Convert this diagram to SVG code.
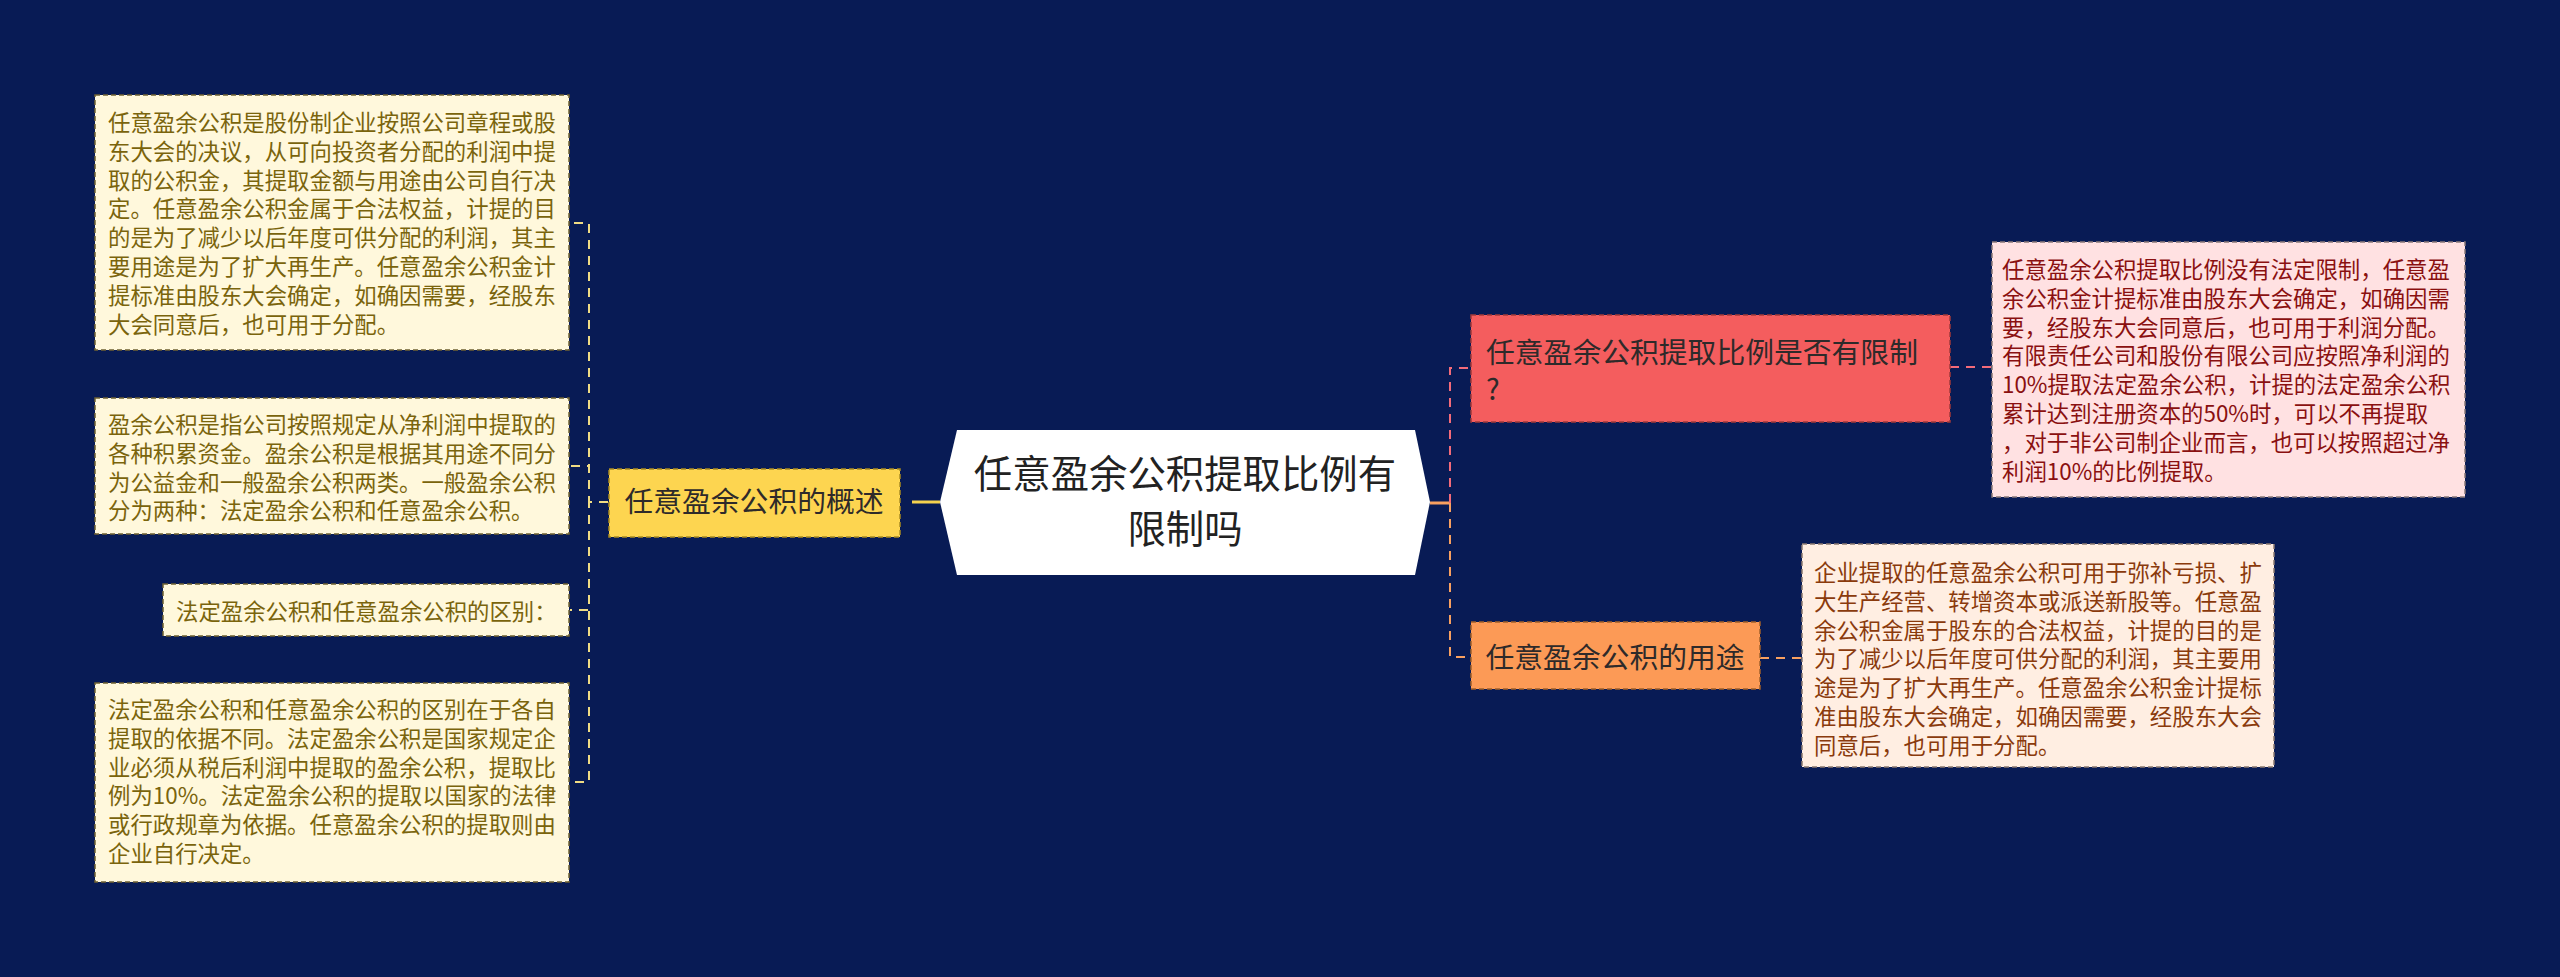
<svg xmlns="http://www.w3.org/2000/svg" width="2560" height="977" viewBox="0 0 2560 977">
<style>
text{font-family:"Noto Sans CJK SC","Noto Sans",sans-serif}
.d{font-size:22.4px}
.ly{fill:#7a640c}
.lr{fill:#8a1010}
.lo{fill:#8a3a0c}
.n{font-size:28.8px;fill:#2e2a2a}
.c{font-size:38.4px;fill:#222}
.boxy{fill:#fff8dc;stroke:#6f6232;stroke-width:1.5;stroke-dasharray:5 3}
.boxr{fill:#ffe1e2;stroke:#8a7a7a;stroke-width:1.5;stroke-dasharray:5 3}
.boxo{fill:#ffeee2;stroke:#8a7a70;stroke-width:1.5;stroke-dasharray:5 3}
.cy{fill:none;stroke:#f0dc84;stroke-width:2;stroke-dasharray:9 7}
.cr{fill:none;stroke:#f36b7a;stroke-width:2;stroke-dasharray:9 7}
.co{fill:none;stroke:#f8a060;stroke-width:2;stroke-dasharray:9 7}
</style>
<rect width="2560" height="977" fill="#081b55"/>
<g id="connectors">
<path class="cy" d="M608 502H589V223H570"/>
<path class="cy" d="M608 502H589V466H570"/>
<path class="cy" d="M608 502H589V610H570"/>
<path class="cy" d="M608 502H589V782H570"/>
<path d="M912 502H940" stroke="#f5d24e" stroke-width="3"/>
<path d="M1430 503H1450" stroke="#f8a060" stroke-width="3"/>
<path class="cr" d="M1450 503V368H1470"/>
<path class="co" d="M1450 503V657H1470"/>
<path class="cr" d="M1950 367H1992"/>
<path class="co" d="M1760 658H1802"/>
</g>
<g id="center">
<polygon points="940,502 957,430 1415,430 1430,502 1415,575 957,575" fill="#ffffff"/>
<text class="c" x="1185" y="488" text-anchor="middle">任意盈余公积提取比例有</text>
<text class="c" x="1185" y="543" text-anchor="middle">限制吗</text>
</g>
<g id="overview">
<rect x="609" y="469" width="291" height="68" fill="#fdd550" stroke="#a88a20" stroke-width="1.5" stroke-dasharray="5 3"/>
<text class="n" x="754" y="512" text-anchor="middle">任意盈余公积的概述</text>
</g>
<g id="desc1">
<rect class="boxy" x="95" y="95" width="474" height="255"/>
<text class="d ly" x="108" y="131">任意盈余公积是股份制企业按照公司章程或股</text>
<text class="d ly" x="108" y="159.8">东大会的决议，从可向投资者分配的利润中提</text>
<text class="d ly" x="108" y="188.6">取的公积金，其提取金额与用途由公司自行决</text>
<text class="d ly" x="108" y="217.4">定。任意盈余公积金属于合法权益，计提的目</text>
<text class="d ly" x="108" y="246.2">的是为了减少以后年度可供分配的利润，其主</text>
<text class="d ly" x="108" y="275">要用途是为了扩大再生产。任意盈余公积金计</text>
<text class="d ly" x="108" y="303.8">提标准由股东大会确定，如确因需要，经股东</text>
<text class="d ly" x="108" y="332.6">大会同意后，也可用于分配。</text>
</g>
<g id="desc2">
<rect class="boxy" x="95" y="398" width="474" height="136"/>
<text class="d ly" x="108" y="433">盈余公积是指公司按照规定从净利润中提取的</text>
<text class="d ly" x="108" y="461.8">各种积累资金。盈余公积是根据其用途不同分</text>
<text class="d ly" x="108" y="490.6">为公益金和一般盈余公积两类。一般盈余公积</text>
<text class="d ly" x="108" y="519.4">分为两种：法定盈余公积和任意盈余公积。</text>
</g>
<g id="desc3">
<rect class="boxy" x="163" y="584" width="406" height="52"/>
<text class="d ly" x="176" y="620">法定盈余公积和任意盈余公积的区别：</text>
</g>
<g id="desc4">
<rect class="boxy" x="95" y="683" width="474" height="199"/>
<text class="d ly" x="108" y="718">法定盈余公积和任意盈余公积的区别在于各自</text>
<text class="d ly" x="108" y="746.8">提取的依据不同。法定盈余公积是国家规定企</text>
<text class="d ly" x="108" y="775.6">业必须从税后利润中提取的盈余公积，提取比</text>
<text class="d ly" x="108" y="804.4">例为10%。法定盈余公积的提取以国家的法律</text>
<text class="d ly" x="108" y="833.2">或行政规章为依据。任意盈余公积的提取则由</text>
<text class="d ly" x="108" y="862">企业自行决定。</text>
</g>
<g id="limit">
<rect x="1471" y="315" width="479" height="107" fill="#f45d5e" stroke="#a03a3a" stroke-width="1.5" stroke-dasharray="5 3"/>
<text class="n" x="1486" y="363">任意盈余公积提取比例是否有限制</text>
<text class="n" x="1486" y="400">?</text>
</g>
<g id="limit-desc">
<rect class="boxr" x="1992" y="242" width="473" height="255"/>
<text class="d lr" x="2002" y="278">任意盈余公积提取比例没有法定限制，任意盈</text>
<text class="d lr" x="2002" y="306.8">余公积金计提标准由股东大会确定，如确因需</text>
<text class="d lr" x="2002" y="335.6">要，经股东大会同意后，也可用于利润分配。</text>
<text class="d lr" x="2002" y="364.4">有限责任公司和股份有限公司应按照净利润的</text>
<text class="d lr" x="2002" y="393.2">10%提取法定盈余公积，计提的法定盈余公积</text>
<text class="d lr" x="2002" y="422">累计达到注册资本的50%时，可以不再提取</text>
<text class="d lr" x="2002" y="450.8">，对于非公司制企业而言，也可以按照超过净</text>
<text class="d lr" x="2002" y="479.6">利润10%的比例提取。</text>
</g>
<g id="use">
<rect x="1471" y="622" width="289" height="67" fill="#fc9a56" stroke="#a0602a" stroke-width="1.5" stroke-dasharray="5 3"/>
<text class="n" x="1615" y="668" text-anchor="middle">任意盈余公积的用途</text>
</g>
<g id="use-desc">
<rect class="boxo" x="1802" y="544" width="472" height="223"/>
<text class="d lo" x="1814" y="581">企业提取的任意盈余公积可用于弥补亏损、扩</text>
<text class="d lo" x="1814" y="609.8">大生产经营、转增资本或派送新股等。任意盈</text>
<text class="d lo" x="1814" y="638.6">余公积金属于股东的合法权益，计提的目的是</text>
<text class="d lo" x="1814" y="667.4">为了减少以后年度可供分配的利润，其主要用</text>
<text class="d lo" x="1814" y="696.2">途是为了扩大再生产。任意盈余公积金计提标</text>
<text class="d lo" x="1814" y="725">准由股东大会确定，如确因需要，经股东大会</text>
<text class="d lo" x="1814" y="753.8">同意后，也可用于分配。</text>
</g>
</svg>
